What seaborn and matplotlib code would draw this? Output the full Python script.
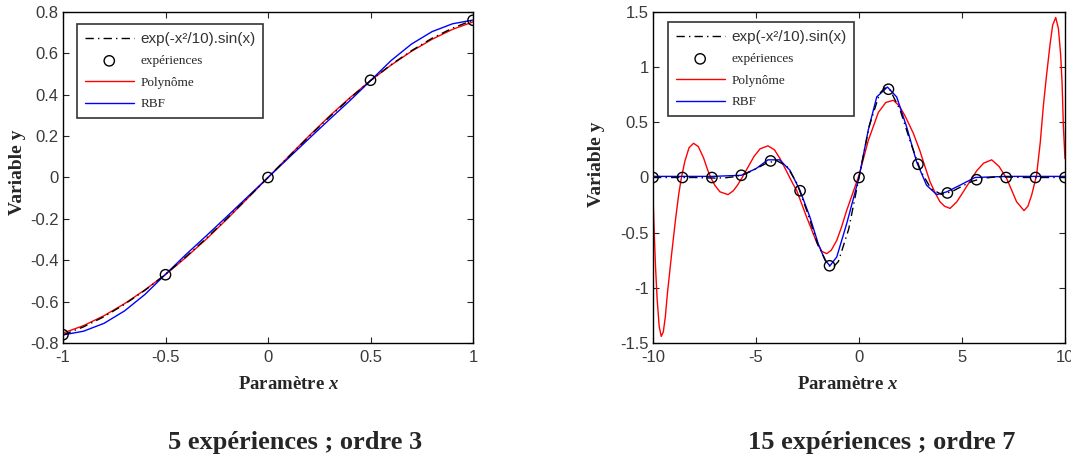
import matplotlib
matplotlib.use('Agg')
import matplotlib.pyplot as plt
from matplotlib.ticker import FormatStrFormatter
import seaborn as sns

# ---- gauche : 5 expériences, ordre 3 ----
x_exp5 = [-1.0, -0.5, 0.0, 0.5, 1.0]
y_exp5 = [-0.76, -0.47, 0.0, 0.47, 0.76]

x_fine5 = [-1.0, -0.9, -0.8, -0.7, -0.6, -0.5, -0.4, -0.3, -0.2, -0.1, 0.0,
           0.1, 0.2, 0.3, 0.4, 0.5, 0.6, 0.7, 0.8, 0.9, 1.0]
y_true5 = [-0.761, -0.722, -0.673, -0.613, -0.545, -0.468, -0.383, -0.293, -0.198, -0.100, 0.0,
           0.100, 0.198, 0.293, 0.383, 0.468, 0.545, 0.613, 0.673, 0.722, 0.761]
y_poly5 = [-0.752, -0.716, -0.668, -0.610, -0.543, -0.469, -0.386, -0.297, -0.201, -0.101, 0.0,
           0.101, 0.201, 0.297, 0.386, 0.469, 0.543, 0.610, 0.668, 0.716, 0.752]
y_rbf5 = [-0.761, -0.743, -0.705, -0.645, -0.565, -0.468, -0.372, -0.281, -0.188, -0.094, 0.0,
          0.094, 0.188, 0.281, 0.372, 0.468, 0.565, 0.645, 0.705, 0.743, 0.761]

# ---- droite : 15 expériences, ordre 7 ----
x_exp15 = [-10, -8.57, -7.14, -5.71, -4.29, -2.86, -1.43, 0, 1.43, 2.86, 4.29, 5.71, 7.14, 8.57, 10]
y_exp15 = [0.0, 0.0, 0.0, 0.02, 0.15, -0.12, -0.80, 0.0, 0.80, 0.12, -0.14, -0.02, 0.0, 0.0, 0.0]

x_true15 = [-10, -9.5, -9, -8.5, -8, -7.5, -7, -6.5, -6, -5.5, -5, -4.5, -4, -3.5, -3, -2.5, -2,
            -1.5, -1.25, -1, -0.5, 0, 0.5, 1, 1.25, 1.5, 2, 2.5, 3, 3.5, 4, 4.5, 5, 5.5, 6,
            6.5, 7, 7.5, 8, 8.5, 9, 9.5, 10]
y_true15 = [0.0, 0.0, 0.0, 0.0, 0.0, -0.003, -0.005, -0.003, 0.008, 0.034, 0.079, 0.129, 0.153,
            0.103, -0.057, -0.320, -0.610, -0.797, -0.812, -0.761, -0.468, 0.0, 0.468, 0.761,
            0.812, 0.797, 0.610, 0.320, 0.057, -0.103, -0.153, -0.129, -0.079, -0.034, -0.008,
            0.003, 0.005, 0.003, 0.0, 0.0, 0.0, 0.0, 0.0]

x_rbf15 = [-10, -8.57, -7.14, -5.71, -5.0, -4.42, -3.85, -3.35, -2.86, -2.38, -1.98, -1.65,
           -1.41, -1.08, -0.60, 0.0, 0.45, 0.86, 1.38, 1.83, 2.31, 2.80, 3.28, 3.77, 4.26,
           4.90, 5.63, 7.14, 8.57, 10]
y_rbf15 = [0.01, 0.01, 0.01, 0.02, 0.08, 0.16, 0.16, 0.065, -0.12, -0.36, -0.60, -0.75,
           -0.80, -0.72, -0.42, 0.0, 0.43, 0.73, 0.82, 0.73, 0.46, 0.14, -0.07, -0.155, -0.13,
           -0.07, 0.0, 0.01, 0.01, 0.01]

x_poly15 = [-10, -9.95, -9.88, -9.8, -9.7, -9.6, -9.5, -9.4, -9.3, -9.1, -8.9, -8.75, -8.62,
            -8.45, -8.25, -8.03, -7.8, -7.55, -7.35, -7.2, -7.0, -6.75, -6.36, -6.1, -5.9,
            -5.67, -5.4, -5.1, -4.8, -4.42, -4.1, -3.83, -3.5, -3.2, -3.02, -2.54, -2.05,
            -1.8, -1.57, -1.35, -1.08, -0.85, -0.60, -0.3, 0.0, 0.45, 0.94, 1.3, 1.67, 1.95,
            2.23, 2.64, 2.96, 3.2, 3.45, 3.7, 3.93, 4.15, 4.42, 4.75, 5.06, 5.4, 5.71, 6.05,
            6.44, 6.8, 7.17, 7.4, 7.65, 8.01, 8.2, 8.38, 8.62, 8.8, 8.95, 9.1, 9.27, 9.4,
            9.55, 9.68, 9.79, 9.86, 9.92, 10]
y_poly15 = [-0.17, -0.45, -0.80, -1.10, -1.35, -1.44, -1.40, -1.26, -1.05, -0.70, -0.37,
            -0.15, 0.0, 0.15, 0.27, 0.31, 0.28, 0.18, 0.07, 0.0, -0.07, -0.13, -0.155, -0.12,
            -0.07, 0.0, 0.09, 0.19, 0.26, 0.287, 0.25, 0.17, 0.05, -0.06, -0.12, -0.36, -0.59,
            -0.67, -0.69, -0.66, -0.57, -0.45, -0.30, -0.14, 0.02, 0.335, 0.59, 0.68, 0.70,
            0.65, 0.56, 0.40, 0.24, 0.10, -0.04, -0.14, -0.22, -0.26, -0.28, -0.22, -0.13,
            -0.03, 0.06, 0.13, 0.16, 0.10, -0.01, -0.11, -0.22, -0.30, -0.26, -0.16, 0.02,
            0.32, 0.65, 0.92, 1.20, 1.38, 1.45, 1.35, 1.11, 0.85, 0.47, 0.17]

titles = ['5 expériences ; ordre 3', '15 expériences ; ordre 7']
curve_label = 'exp(-x²/10).sin(x)'

sns.set_style('ticks')
plt.rcParams['font.family'] = ['Liberation Sans', 'DejaVu Sans']
plt.rcParams['axes.unicode_minus'] = False
plt.rcParams['mathtext.fontset'] = 'custom'
plt.rcParams['mathtext.rm'] = 'Liberation Serif:bold'
plt.rcParams['mathtext.it'] = 'Liberation Serif:italic:bold'

fig = plt.figure(figsize=(10.71, 4.63), dpi=100)
ax1 = fig.add_axes([63 / 1071, 120 / 463, 410 / 1071, 331 / 463])
ax2 = fig.add_axes([653 / 1071, 120 / 463, 412 / 1071, 331 / 463])


def panel(ax, xt, yt, xp, yp, xr, yr, xe, ye, xlim, ylim, xticks, yticks, leg_anchor, xlab_x, ylab_xy):
    sns.lineplot(x=xp, y=yp, color='#ff0000', lw=1, ax=ax, label='Polynôme', estimator=None)
    sns.lineplot(x=xr, y=yr, color='#0000ff', lw=1, ax=ax, label='RBF', estimator=None)
    sns.lineplot(x=xt, y=yt, color='black', lw=1, ax=ax, label=curve_label, estimator=None,
                 linestyle=(0, (6, 3, 1, 3)))
    sns.scatterplot(x=xe, y=ye, marker='o', s=55, facecolors='none', edgecolor='black',
                    linewidth=1, ax=ax, label='expériences', zorder=5)

    ax.set_xlim(*xlim)
    ax.set_ylim(*ylim)
    ax.set_xticks(xticks)
    ax.set_yticks(yticks)
    ax.xaxis.set_major_formatter(FormatStrFormatter('%g'))
    ax.yaxis.set_major_formatter(FormatStrFormatter('%g'))
    ax.tick_params(direction='in', top=True, right=True, length=4, width=0.8,
                   labelsize=12, labelcolor='#3a3a3a')
    ax.tick_params(axis='x', pad=5)
    ax.tick_params(axis='y', pad=3)
    for s in ax.spines.values():
        s.set_visible(True)
        s.set_color('black')
        s.set_linewidth(1)

    ax.set_xlabel('Paramètre $x$', fontsize=13.5, fontweight='bold', family='Liberation Serif')
    ax.set_ylabel('Variable y', fontsize=14, fontweight='bold', family='Liberation Serif')
    ax.xaxis.set_label_coords(xlab_x, -0.10)
    ax.yaxis.set_label_coords(*ylab_xy)

    handles, labels = ax.get_legend_handles_labels()
    order = [curve_label, 'expériences', 'Polynôme', 'RBF']
    hmap = dict(zip(labels, handles))
    leg = ax.legend([hmap[k] for k in order], order, loc='upper left', bbox_to_anchor=leg_anchor,
                    borderaxespad=0, fancybox=False, framealpha=1, edgecolor='#333333',
                    handlelength=3.7, handletextpad=0.5, labelspacing=0.7,
                    borderpad=0.6, prop={'family': 'Liberation Serif', 'size': 9.5})
    leg.get_frame().set_linewidth(1.2)
    texts = leg.get_texts()
    texts[0].set_fontfamily('Liberation Sans')
    texts[0].set_fontsize(11)
    texts[0].set_color('#333333')


panel(ax1, x_fine5, y_true5, x_fine5, y_poly5, x_fine5, y_rbf5, x_exp5, y_exp5,
      (-1, 1), (-0.8, 0.8), [-1, -0.5, 0, 0.5, 1], [-0.8, -0.6, -0.4, -0.2, 0, 0.2, 0.4, 0.6, 0.8],
      (0.034, 0.964), 0.549, (-0.09, 0.517))
panel(ax2, x_true15, y_true15, x_poly15, y_poly15, x_rbf15, y_rbf15, x_exp15, y_exp15,
      (-10, 10), (-1.5, 1.5), [-10, -5, 0, 5, 10], [-1.5, -1, -0.5, 0, 0.5, 1, 1.5],
      (0.036, 0.970), 0.473, (-0.117, 0.54))

fig.text(295 / 1071, 1 - 443 / 463, titles[0], ha='center', va='center', fontsize=19,
         fontweight='bold', family='Liberation Serif')
fig.text(882 / 1071, 1 - 443 / 463, titles[1], ha='center', va='center', fontsize=19,
         fontweight='bold', family='Liberation Serif')

fig.savefig('out.png', dpi=100)
